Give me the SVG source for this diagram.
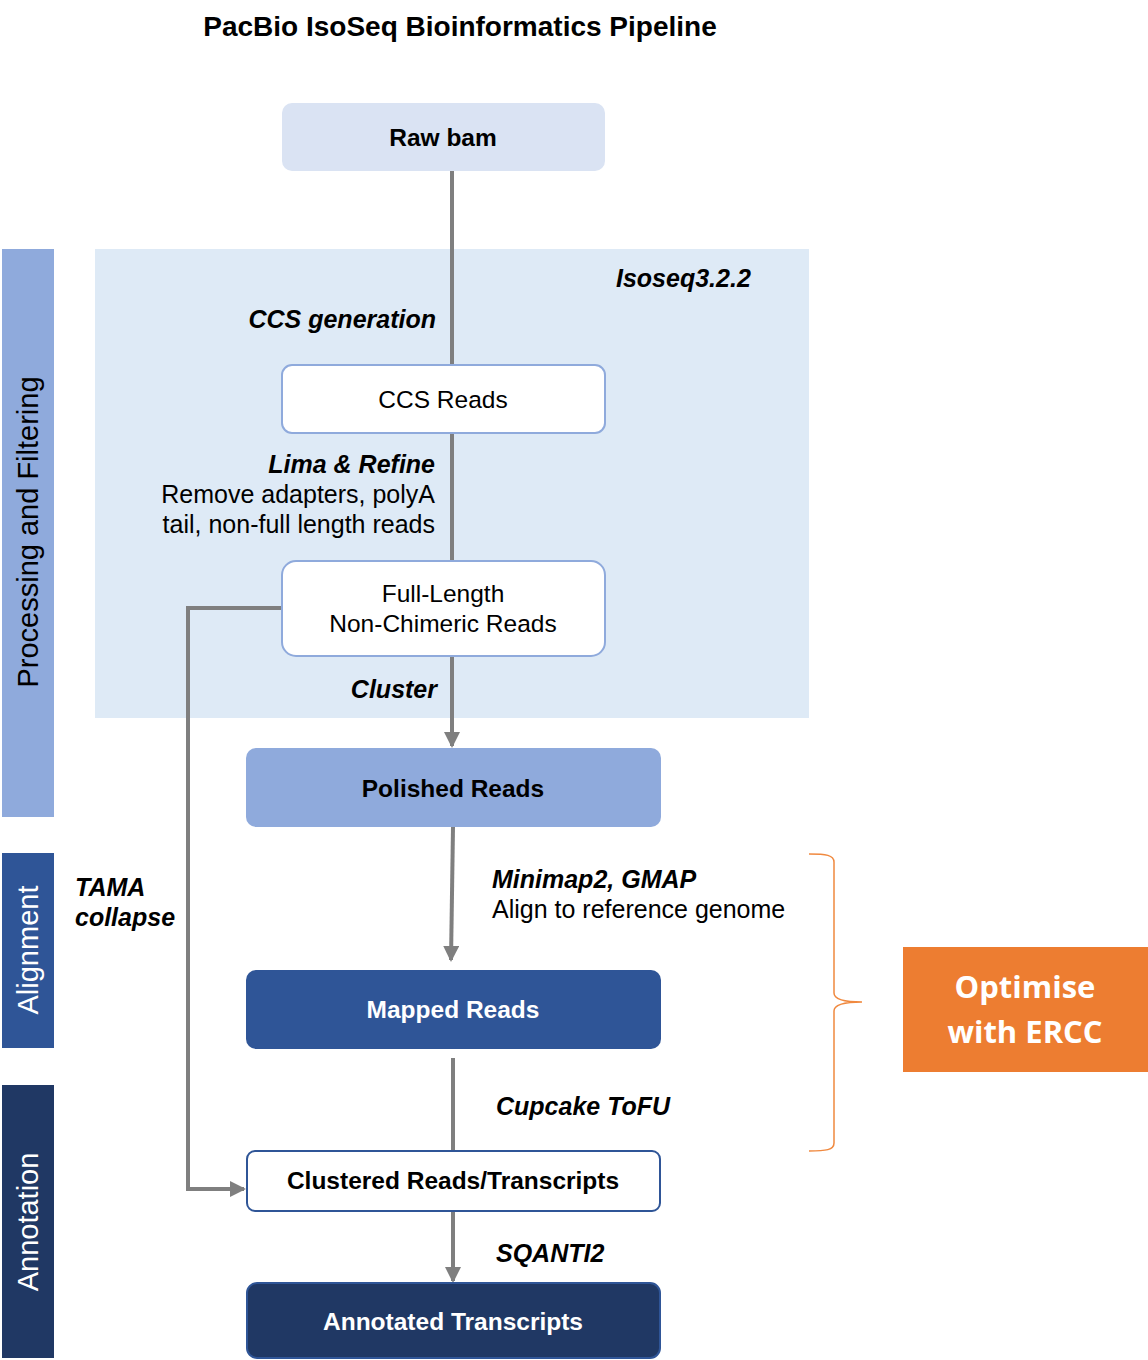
<svg xmlns="http://www.w3.org/2000/svg" width="1148" height="1360" viewBox="0 0 1148 1360">
<defs>
<marker id="arr" markerWidth="4" markerHeight="4" refX="3.5" refY="2" orient="auto" markerUnits="strokeWidth">
<path d="M0,0 L4,2 L0,4 Z" fill="#7f7f7f"/>
</marker>
<style>
text{font-family:"Liberation Sans",Arial,sans-serif;fill:#000}
.b{font-weight:bold}
.bi{font-weight:bold;font-style:italic}
.n{font-size:24.5px;text-anchor:middle}
.l{font-size:25px}
.w{fill:#fff}
.conn{stroke:#7f7f7f;stroke-width:4;fill:none}
.side{font-size:29px;text-anchor:middle}
.o{font-family:"Open Sans","Liberation Sans",sans-serif;font-size:31px;font-weight:bold;fill:#fff;text-anchor:middle}
</style>
</defs>
<rect width="1148" height="1360" fill="#fff"/>
<text x="460" y="36" class="b" font-size="28" text-anchor="middle">PacBio IsoSeq Bioinformatics Pipeline</text>

<g id="panel-isoseq">
<rect x="95" y="249" width="714" height="469" fill="#deeaf6"/>
<text x="616" y="287" class="bi l">Isoseq3.2.2</text>
</g>

<g id="stage-processing">
<rect x="2" y="249" width="52" height="568" fill="#8faadc"/>
<text class="side" transform="translate(38,532) rotate(-90)">Processing and Filtering</text>
</g>
<g id="stage-alignment">
<rect x="2" y="853" width="52" height="195" fill="#2f5597"/>
<text class="side w" transform="translate(38,950) rotate(-90)">Alignment</text>
</g>
<g id="stage-annotation">
<rect x="2" y="1085" width="52" height="273" fill="#203864"/>
<text class="side w" transform="translate(38,1222) rotate(-90)">Annotation</text>
</g>

<g id="connectors">
<line class="conn" x1="452" y1="171" x2="452" y2="365"/>
<line class="conn" x1="452" y1="433" x2="452" y2="561"/>
<line class="conn" x1="452" y1="656" x2="452" y2="746" marker-end="url(#arr)"/>
<line class="conn" x1="453" y1="827" x2="451" y2="960" marker-end="url(#arr)"/>
<line class="conn" x1="453" y1="1058" x2="453" y2="1151"/>
<line class="conn" x1="453" y1="1211" x2="453" y2="1281" marker-end="url(#arr)"/>
<polyline class="conn" points="282,608 188,608 188,1189 244,1189" marker-end="url(#arr)"/>
<text x="436" y="328" class="bi l" text-anchor="end">CCS generation</text>
<text x="435" y="473" class="bi l" text-anchor="end">Lima &amp; Refine</text>
<text x="435" y="503" class="l" text-anchor="end">Remove adapters, polyA</text>
<text x="435" y="533" class="l" text-anchor="end">tail, non-full length reads</text>
<text x="437" y="698" class="bi l" text-anchor="end">Cluster</text>
<text x="492" y="888" class="bi l">Minimap2, GMAP</text>
<text x="492" y="918" class="l">Align to reference genome</text>
<text x="75" y="896" class="bi l">TAMA</text>
<text x="75" y="926" class="bi l">collapse</text>
<text x="496" y="1115" class="bi l">Cupcake ToFU</text>
<text x="496" y="1262" class="bi l">SQANTI2</text>
</g>

<g id="node-rawbam">
<rect x="282" y="103" width="323" height="68" rx="10" fill="#dae3f3"/>
<text x="443" y="146" class="n b">Raw bam</text>
</g>
<g id="node-ccs">
<rect x="282" y="365" width="323" height="68" rx="10" fill="#fff" stroke="#8faadc" stroke-width="2"/>
<text x="443" y="408" class="n">CCS Reads</text>
</g>
<g id="node-flnc">
<rect x="282" y="561" width="323" height="95" rx="14" fill="#fff" stroke="#8faadc" stroke-width="2"/>
<text x="443" y="602" class="n">Full-Length</text>
<text x="443" y="632" class="n">Non-Chimeric Reads</text>
</g>
<g id="node-polished">
<rect x="246" y="748" width="415" height="79" rx="10" fill="#8faadc"/>
<text x="453" y="797" class="n b">Polished Reads</text>
</g>
<g id="node-mapped">
<rect x="246" y="970" width="415" height="79" rx="10" fill="#2f5597"/>
<text x="453" y="1018" class="n b w">Mapped Reads</text>
</g>
<g id="node-clustered">
<rect x="247" y="1151" width="413" height="60" rx="8" fill="#fff" stroke="#2f5597" stroke-width="2"/>
<text x="453" y="1189" class="n b">Clustered Reads/Transcripts</text>
</g>
<g id="node-annotated">
<rect x="247" y="1283" width="413" height="75" rx="10" fill="#203864" stroke="#2f5597" stroke-width="2"/>
<text x="453" y="1330" class="n b w">Annotated Transcripts</text>
</g>

<g id="brace">
<path d="M809,854 C826,854 834,855 834,862 L834,993 C834,1000 846,1002 862,1002 C846,1002 834,1004 834,1011 L834,1143 C834,1150 826,1151 809,1151" fill="none" stroke="#f0893f" stroke-width="1.5"/>
</g>
<g id="node-optimise">
<rect x="903" y="947" width="245" height="125" fill="#ed7d31"/>
<text x="1025" y="998" class="o">Optimise</text>
<text x="1025" y="1043" class="o">with ERCC</text>
</g>
</svg>
